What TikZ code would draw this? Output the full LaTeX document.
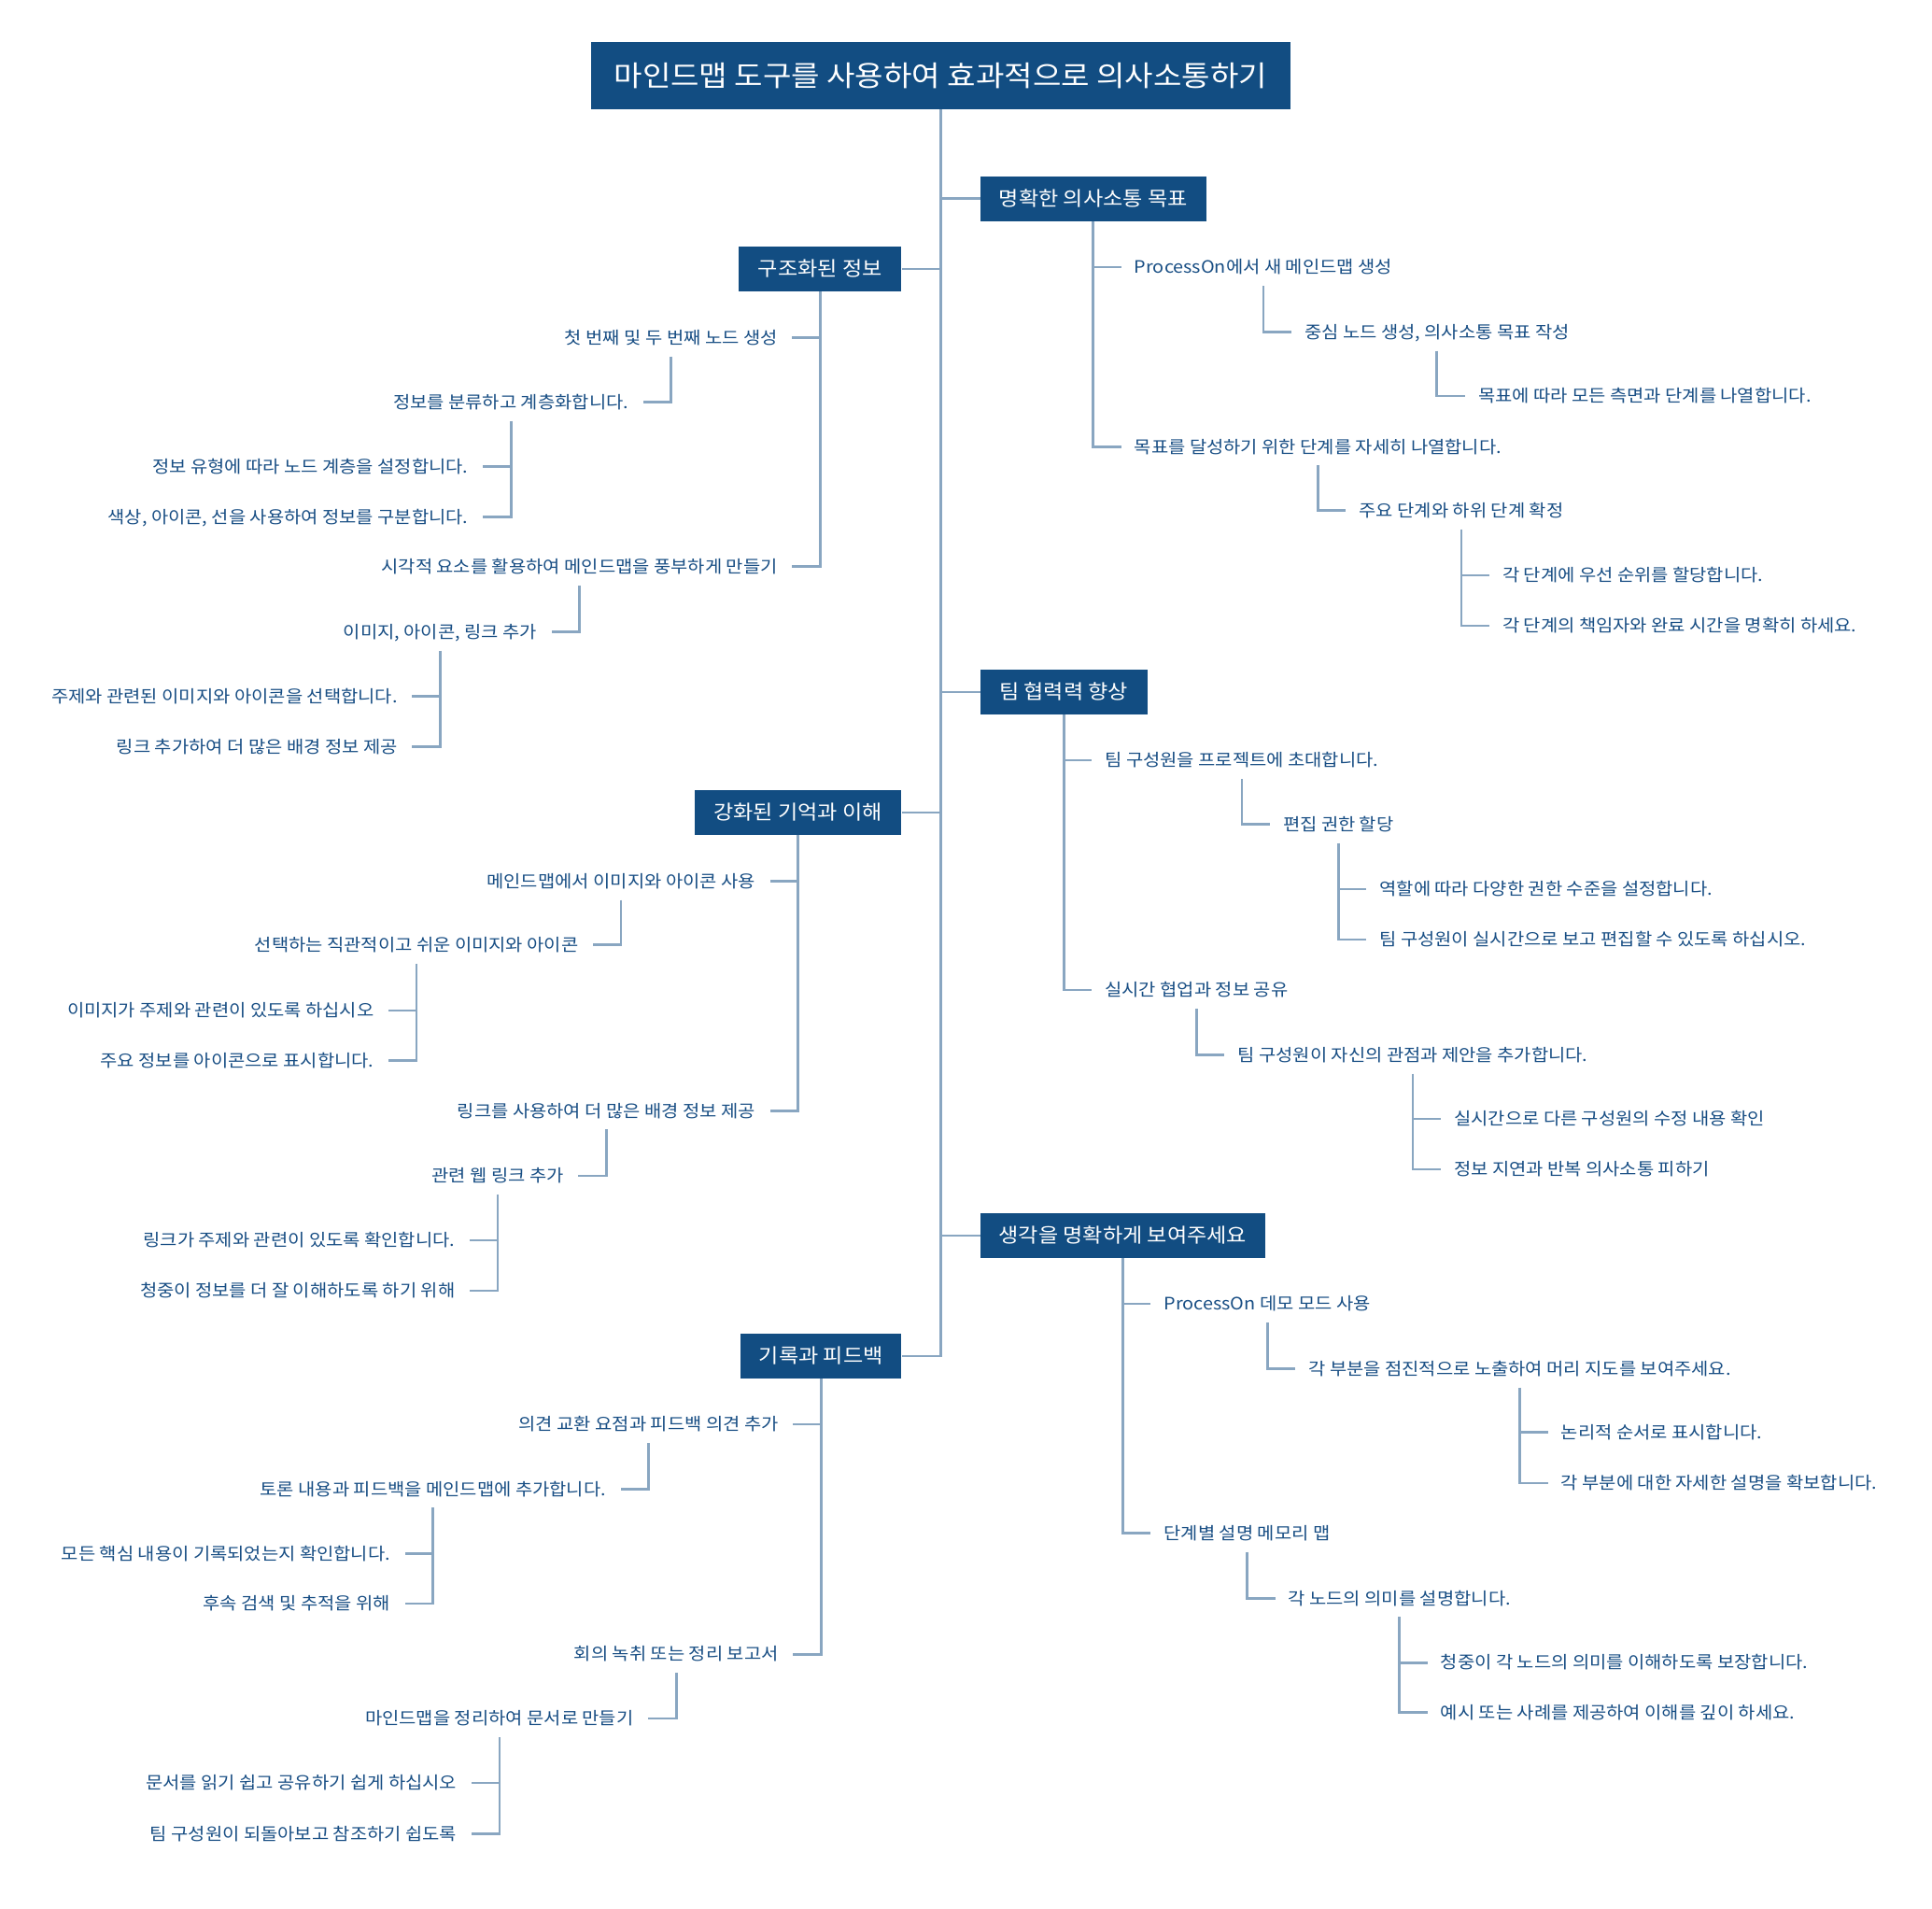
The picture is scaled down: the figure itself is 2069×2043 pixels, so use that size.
\documentclass[tikz,border=0pt]{standalone}
\usepackage{fontspec}
\setmainfont{Noto Sans CJK KR}[FakeStretch=1.085]
\definecolor{boxblue}{RGB}{18,77,130}
\definecolor{txtblue}{RGB}{24,78,132}
\definecolor{linecol}{RGB}{137,166,193}
\newcommand\rstub[2]{\draw[conn] (#1.center |- #2.west) -- ([xshift=-14pt]#2.west);}
\newcommand\lstub[2]{\draw[conn] (#1.center |- #2.east) -- ([xshift=15.5pt]#2.east);}
\newcommand\rdrop[2]{\draw[conn] ([yshift=-20pt]#1.center) -- (#1.center |- #2.west) -- ([xshift=-14pt]#2.west);}
\newcommand\ldrop[2]{\draw[conn] ([yshift=-20pt]#1.center) -- (#1.center |- #2.east) -- ([xshift=15.5pt]#2.east);}
\begin{document}
\begin{tikzpicture}[x=1pt,y=-1pt,
 conn/.style={draw=linecol, line width=2.7pt, line join=miter},
 rootbox/.style={fill=boxblue, text=white, font=\fontsize{30.5}{36}\selectfont, inner xsep=10pt, inner ysep=0pt, minimum height=71.7pt, text height=24.4pt, text depth=1.8pt},
 mainbox/.style={fill=boxblue, text=white, font=\fontsize{21.3}{25}\selectfont, inner xsep=10pt, inner ysep=0pt, minimum height=47.7pt, text height=17pt, text depth=1.3pt},
 leaf/.style={text=txtblue, font=\fontsize{18.3}{22}\selectfont, inner sep=0pt, text height=14.6pt, text depth=1.1pt},
 rleaf/.style={leaf, anchor=west, xshift=44pt},
 lleaf/.style={leaf, anchor=east, xshift=-45.5pt}]
\fill[white] (0,0) rectangle (2069,2043);
\useasboundingbox (0,0) rectangle (2069,2043);

% root and main branches
\node[rootbox, minimum width=749pt] (root) at (1007.3,81) {마인드맵 도구를 사용하여 효과적으로 의사소통하기};
\node[mainbox, anchor=west, minimum width=242pt] (R1) at (1049.5,212.8) {명확한 의사소통 목표};
\node[mainbox, anchor=west, minimum width=179pt] (R2) at (1049.5,741) {팀 협력력 향상};
\node[mainbox, anchor=west, minimum width=305.5pt] (R3) at (1049.5,1323) {생각을 명확하게 보여주세요};
\node[mainbox, anchor=east, minimum width=174pt] (L1) at (965.5,288) {구조화된 정보};
\node[mainbox, anchor=east, minimum width=221.6pt] (L2) at (965.5,870) {강화된 기억과 이해};
\node[mainbox, anchor=east, minimum width=172pt] (L3) at (965.5,1452) {기록과 피드백};

% R1
\node[rleaf] (A1) at (R1.center |- 0,286) {ProcessOn에서 새 메인드맵 생성};
\node[rleaf] (A1a) at (A1.center |- 0,355.5) {중심 노드 생성, 의사소통 목표 작성};
\node[rleaf] (A1a1) at (A1a.center |- 0,424) {목표에 따라 모든 측면과 단계를 나열합니다.};
\node[rleaf] (A2) at (R1.center |- 0,478.3) {목표를 달성하기 위한 단계를 자세히 나열합니다.};
\node[rleaf] (A2a) at (A2.center |- 0,546.7) {주요 단계와 하위 단계 확정};
\node[rleaf] (A2a1) at (A2a.center |- 0,616) {각 단계에 우선 순위를 할당합니다.};
\node[rleaf] (A2a2) at (A2a.center |- 0,670) {각 단계의 책임자와 완료 시간을 명확히 하세요.};

% R2
\node[rleaf] (B1) at (R2.center |- 0,814) {팀 구성원을 프로젝트에 초대합니다.};
\node[rleaf] (B1a) at (B1.center |- 0,882.6) {편집 권한 할당};
\node[rleaf] (B1a1) at (B1a.center |- 0,951.9) {역할에 따라 다양한 권한 수준을 설정합니다.};
\node[rleaf] (B1a2) at (B1a.center |- 0,1006) {팀 구성원이 실시간으로 보고 편집할 수 있도록 하십시오.};
\node[rleaf] (B2) at (R2.center |- 0,1060) {실시간 협업과 정보 공유};
\node[rleaf] (B2a) at (B2.center |- 0,1129.5) {팀 구성원이 자신의 관점과 제안을 추가합니다.};
\node[rleaf] (B2a1) at (B2a.center |- 0,1197.9) {실시간으로 다른 구성원의 수정 내용 확인};
\node[rleaf] (B2a2) at (B2a.center |- 0,1251.9) {정보 지연과 반복 의사소통 피하기};

% R3
\node[rleaf] (C1) at (R3.center |- 0,1396) {ProcessOn 데모 모드 사용};
\node[rleaf] (C1a) at (C1.center |- 0,1465.6) {각 부분을 점진적으로 노출하여 머리 지도를 보여주세요.};
\node[rleaf] (C1a1) at (C1a.center |- 0,1533.7) {논리적 순서로 표시합니다.};
\node[rleaf] (C1a2) at (C1a.center |- 0,1588) {각 부분에 대한 자세한 설명을 확보합니다.};
\node[rleaf] (C2) at (R3.center |- 0,1641.7) {단계별 설명 메모리 맵};
\node[rleaf] (C2a) at (C2.center |- 0,1711.3) {각 노드의 의미를 설명합니다.};
\node[rleaf] (C2a1) at (C2a.center |- 0,1780.2) {청중이 각 노드의 의미를 이해하도록 보장합니다.};
\node[rleaf] (C2a2) at (C2a.center |- 0,1833.8) {예시 또는 사례를 제공하여 이해를 깊이 하세요.};

% L1
\node[lleaf] (D1) at (L1.center |- 0,361.7) {첫 번째 및 두 번째 노드 생성};
\node[lleaf] (D1a) at (D1.center |- 0,430.7) {정보를 분류하고 계층화합니다.};
\node[lleaf] (D1a1) at (D1a.center |- 0,499.3) {정보 유형에 따라 노드 계층을 설정합니다.};
\node[lleaf] (D1a2) at (D1a.center |- 0,553.3) {색상, 아이콘, 선을 사용하여 정보를 구분합니다.};
\node[lleaf] (D2) at (L1.center |- 0,606.7) {시각적 요소를 활용하여 메인드맵을 풍부하게 만들기};
\node[lleaf] (D2a) at (D2.center |- 0,676.7) {이미지, 아이콘, 링크 추가};
\node[lleaf] (D2a1) at (D2a.center |- 0,745.3) {주제와 관련된 이미지와 아이콘을 선택합니다.};
\node[lleaf] (D2a2) at (D2a.center |- 0,799.3) {링크 추가하여 더 많은 배경 정보 제공};

% L2
\node[lleaf] (E1) at (L2.center |- 0,943.7) {메인드맵에서 이미지와 아이콘 사용};
\node[lleaf] (E1a) at (E1.center |- 0,1011.5) {선택하는 직관적이고 쉬운 이미지와 아이콘};
\node[lleaf] (E1a1) at (E1a.center |- 0,1081.9) {이미지가 주제와 관련이 있도록 하십시오};
\node[lleaf] (E1a2) at (E1a.center |- 0,1135.6) {주요 정보를 아이콘으로 표시합니다.};
\node[lleaf] (E2) at (L2.center |- 0,1189.3) {링크를 사용하여 더 많은 배경 정보 제공};
\node[lleaf] (E2a) at (E2.center |- 0,1258.9) {관련 웹 링크 추가};
\node[lleaf] (E2a1) at (E2a.center |- 0,1328.1) {링크가 주제와 관련이 있도록 확인합니다.};
\node[lleaf] (E2a2) at (E2a.center |- 0,1381.9) {청중이 정보를 더 잘 이해하도록 하기 위해};

% L3
\node[lleaf] (F1) at (L3.center |- 0,1525.1) {의견 교환 요점과 피드백 의견 추가};
\node[lleaf] (F1a) at (F1.center |- 0,1594.4) {토론 내용과 피드백을 메인드맵에 추가합니다.};
\node[lleaf] (F1a1) at (F1a.center |- 0,1663.3) {모든 핵심 내용이 기록되었는지 확인합니다.};
\node[lleaf] (F1a2) at (F1a.center |- 0,1716.9) {후속 검색 및 추적을 위해};
\node[lleaf] (F2) at (L3.center |- 0,1771.2) {회의 녹취 또는 정리 보고서};
\node[lleaf] (F2a) at (F2.center |- 0,1840.1) {마인드맵을 정리하여 문서로 만들기};
\node[lleaf] (F2a1) at (F2a.center |- 0,1909) {문서를 읽기 쉽고 공유하기 쉽게 하십시오};
\node[lleaf] (F2a2) at (F2a.center |- 0,1963.3) {팀 구성원이 되돌아보고 참조하기 쉽도록};

% trunk
\draw[conn] (root.south) -- (root.south |- L3.east) -- (L3.east);
\draw[conn] (root.south |- R1.west) -- (R1.west);
\draw[conn] (root.south |- R2.west) -- (R2.west);
\draw[conn] (root.south |- R3.west) -- (R3.west);
\draw[conn] (root.south |- L1.east) -- (L1.east);
\draw[conn] (root.south |- L2.east) -- (L2.east);

% right connectors
\draw[conn] (R1.south) -- (R1.south |- A2.west) -- ([xshift=-14pt]A2.west);
\rstub{R1}{A1}
\rdrop{A1}{A1a}
\rdrop{A1a}{A1a1}
\rdrop{A2}{A2a}
\rdrop{A2a}{A2a2}
\rstub{A2a}{A2a1}

\draw[conn] (R2.south) -- (R2.south |- B2.west) -- ([xshift=-14pt]B2.west);
\rstub{R2}{B1}
\rdrop{B1}{B1a}
\rdrop{B1a}{B1a2}
\rstub{B1a}{B1a1}
\rdrop{B2}{B2a}
\rdrop{B2a}{B2a2}
\rstub{B2a}{B2a1}

\draw[conn] (R3.south) -- (R3.south |- C2.west) -- ([xshift=-14pt]C2.west);
\rstub{R3}{C1}
\rdrop{C1}{C1a}
\rdrop{C1a}{C1a2}
\rstub{C1a}{C1a1}
\rdrop{C2}{C2a}
\rdrop{C2a}{C2a2}
\rstub{C2a}{C2a1}

% left connectors
\draw[conn] (L1.south) -- (L1.south |- D2.east) -- ([xshift=15.5pt]D2.east);
\lstub{L1}{D1}
\ldrop{D1}{D1a}
\ldrop{D1a}{D1a2}
\lstub{D1a}{D1a1}
\ldrop{D2}{D2a}
\ldrop{D2a}{D2a2}
\lstub{D2a}{D2a1}

\draw[conn] (L2.south) -- (L2.south |- E2.east) -- ([xshift=15.5pt]E2.east);
\lstub{L2}{E1}
\ldrop{E1}{E1a}
\ldrop{E1a}{E1a2}
\lstub{E1a}{E1a1}
\ldrop{E2}{E2a}
\ldrop{E2a}{E2a2}
\lstub{E2a}{E2a1}

\draw[conn] (L3.south) -- (L3.south |- F2.east) -- ([xshift=15.5pt]F2.east);
\lstub{L3}{F1}
\ldrop{F1}{F1a}
\ldrop{F1a}{F1a2}
\lstub{F1a}{F1a1}
\ldrop{F2}{F2a}
\ldrop{F2a}{F2a2}
\lstub{F2a}{F2a1}
\end{tikzpicture}
\end{document}
